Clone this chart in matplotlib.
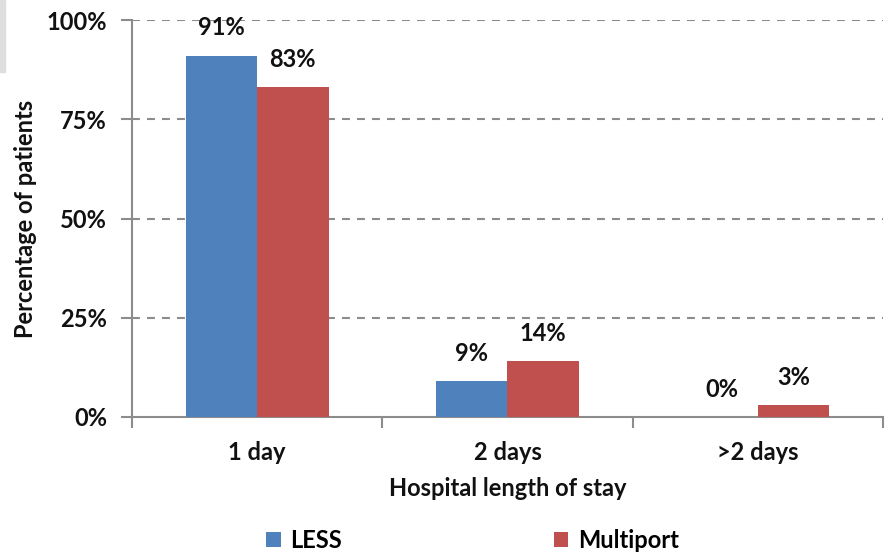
import numpy as np
import matplotlib.pyplot as plt
from matplotlib.patches import Rectangle
from matplotlib.ticker import PercentFormatter

# data
categories = ['1 day', '2 days', '>2 days']
less_values = [91, 9, 0]
multiport_values = [83, 14, 3]
series_names = ['LESS', 'Multiport']

BLUE = '#4F81BD'
RED = '#C0504D'
GRID = '#8c8c8c'
TXT = '#111111'
FS = 17

plt.rcParams['font.family'] = ['Lato', 'DejaVu Sans']
plt.rcParams['font.weight'] = 'bold'

fig = plt.figure(figsize=(8.85, 5.54), dpi=100)
ax = fig.add_axes([132 / 885, 1 - 417 / 554, 751 / 885, 397 / 554])

x = np.arange(len(categories))
w = 0.285
bars_less = ax.bar(x - w / 2, less_values, w, color=BLUE, label=series_names[0], zorder=3)
bars_multi = ax.bar(x + w / 2, multiport_values, w, color=RED, label=series_names[1], zorder=3)

# value labels above bars
for bars, vals in [(bars_less, less_values), (bars_multi, multiport_values)]:
    for b, v in zip(bars, vals):
        ax.annotate(f'{v}%', (b.get_x() + b.get_width() / 2, b.get_height()),
                    xytext=(0, 20), textcoords='offset points',
                    ha='center', va='center', fontsize=FS, fontweight='bold', color=TXT)

ax.set_xlim(-0.5, len(categories) - 0.5)
ax.set_ylim(0, 100)
ax.set_yticks([0, 25, 50, 75, 100])
ax.yaxis.set_major_formatter(PercentFormatter(decimals=0))

# category boundaries get the tick marks, labels sit in the middle
ax.set_xticks(np.arange(-0.5, len(categories), 1.0))
ax.set_xticklabels([])
ax.set_xticks(x, minor=True)
ax.set_xticklabels(categories, minor=True)
ax.tick_params(axis='x', which='major', length=8, width=1.5, color=GRID, direction='out')
ax.tick_params(axis='x', which='minor', length=0, pad=17, labelsize=FS, labelcolor=TXT)
ax.tick_params(axis='y', length=8, width=1.5, color=GRID, direction='out', pad=10,
               labelsize=FS, labelcolor=TXT)

for yv in [25, 50, 75, 100]:
    ax.axhline(yv, color=GRID, lw=1.5, ls=(0, (3.8, 3.4)), zorder=1)

for s in ['top', 'right']:
    ax.spines[s].set_visible(False)
for s in ['left', 'bottom']:
    ax.spines[s].set_color(GRID)
    ax.spines[s].set_linewidth(1.5)

ax.set_ylabel('Percentage of patients', fontsize=FS, fontweight='bold', color=TXT)
ax.yaxis.set_label_coords(-0.127, 0.5)
ax.set_xlabel('Hospital length of stay', fontsize=FS, fontweight='bold', color=TXT)
ax.xaxis.set_label_coords(0.5, -0.15)

fig.legend(handles=[bars_less, bars_multi], labels=series_names, loc='center',
           bbox_to_anchor=(0.534, 0.025), ncol=2, frameon=False, fontsize=FS,
           handlelength=0.6, handleheight=0.6, handletextpad=0.4, columnspacing=9.0)

# grey strip in the top-left corner of the original image
fig.patches.append(Rectangle((0, 1 - 72 / 554), 5 / 885, 72 / 554, transform=fig.transFigure,
                             color='#dedede', zorder=0))

fig.savefig('out.png', dpi=100)
